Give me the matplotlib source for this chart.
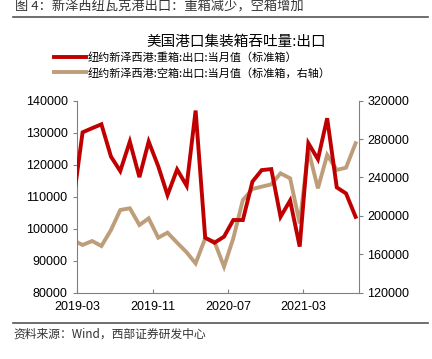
import matplotlib
matplotlib.use("Agg")
import matplotlib.pyplot as plt
import matplotlib.dates as mdates
from matplotlib.lines import Line2D
import numpy as np
import pandas as pd

plt.rcParams['font.family'] = ['Liberation Sans', 'Noto Sans CJK SC', 'DejaVu Sans']
cjk = ['Noto Sans CJK SC', 'DejaVu Sans']

# monthly data, 2019-02 .. 2021-08
months = pd.date_range('2019-02-01', '2021-08-01', freq='MS')
full = [110000, 130100, 131400, 132600, 122500, 118000, 127200, 116100,
        127200, 119500, 110500, 118500, 113400, 136900, 97200, 95600,
        97500, 102700, 102700, 114700, 118300, 118600, 103700, 108800,
        94400, 126700, 121700, 134500, 112900, 111000, 103700]
empty = [174200, 169700, 173800, 168600, 185300, 206100, 207900, 190500,
         197400, 177300, 182500, 172100, 162000, 150500, 176600, 173100,
         147100, 176600, 216500, 228000, 230400, 232800, 244300, 239100,
         192200, 268600, 228700, 263400, 247800, 250200, 275600]
tick_dates = ['2019-03-01', '2019-11-01', '2020-07-01', '2021-03-01']

red = '#C00000'
tan = '#BE9E7A'
grey = '#808080'

dates = months + pd.Timedelta(days=17)

fig = plt.figure(figsize=(4.32, 3.59), dpi=100)
ax = fig.add_axes([0.179, 0.1847, 0.652, 0.535])
ax2 = ax.twinx()

l1, = ax.plot(dates, full, color=red, lw=2.8, solid_joinstyle='miter', zorder=3)
l2, = ax2.plot(dates, empty, color=tan, lw=2.8, solid_joinstyle='miter')
ax.set_zorder(ax2.get_zorder() + 1)
ax.patch.set_visible(False)

ax.set_xlim(pd.Timestamp('2019-03-01'), pd.Timestamp('2021-08-29'))
ax.set_ylim(80000, 140000)
ax2.set_ylim(120000, 320000)
ax.set_yticks(np.arange(80000, 140001, 10000))
ax2.set_yticks(np.arange(120000, 320001, 40000))
ax.set_xticks(pd.to_datetime(tick_dates))
ax.xaxis.set_major_formatter(mdates.DateFormatter('%Y-%m'))

for a in (ax, ax2):
    a.spines['top'].set_visible(False)
    for s in ('left', 'right', 'bottom'):
        a.spines[s].set_color(grey)
        a.spines[s].set_linewidth(0.8)
ax.spines['right'].set_visible(False)
ax2.spines['left'].set_visible(False)
ax2.spines['bottom'].set_visible(False)

ax.tick_params(axis='y', direction='out', length=3, width=0.8, color=grey,
               pad=4, labelsize=9)
ax2.tick_params(axis='y', direction='out', length=3, width=0.8, color=grey,
                pad=3, labelsize=9)
ax.tick_params(axis='x', direction='in', length=3, width=0.8, color=grey,
               pad=6, labelsize=9)

# titles and legend
fig.text(0.035, 1 - 7 / 359, '图 4：新泽西纽瓦克港出口：重箱减少，空箱增加',
         family=cjk, fontsize=9.5, color='#333333', va='center', ha='left')
fig.add_artist(Line2D([13 / 432, 428 / 432], [1 - 17 / 359] * 2,
                      color='#555555', lw=1.2))
fig.text(236 / 432, 1 - 42 / 359, '美国港口集装箱吞吐量:出口', family=cjk,
         fontsize=10.5, ha='center', va='center')
leg = fig.legend([l1, l2],
                 ['纽约新泽西港:重箱:出口:当月值（标准箱）',
                  '纽约新泽西港:空箱:出口:当月值（标准箱，右轴）'],
                 loc='upper left', bbox_to_anchor=(54 / 432, 1 - 52 / 359),
                 frameon=False, prop={'family': cjk, 'size': 8},
                 handlelength=2.9, handletextpad=0.1, labelspacing=0.45,
                 borderpad=0, borderaxespad=0)
fig.add_artist(Line2D([13 / 432, 428 / 432], [1 - 323 / 359] * 2,
                      color='#555555', lw=1.2))
fig.text(13 / 432, 1 - 334 / 359, '资料来源：Wind，西部证券研发中心', family=cjk,
         fontsize=8.5, color='#333333', va='center', ha='left')

fig.savefig('out.png', dpi=100)
